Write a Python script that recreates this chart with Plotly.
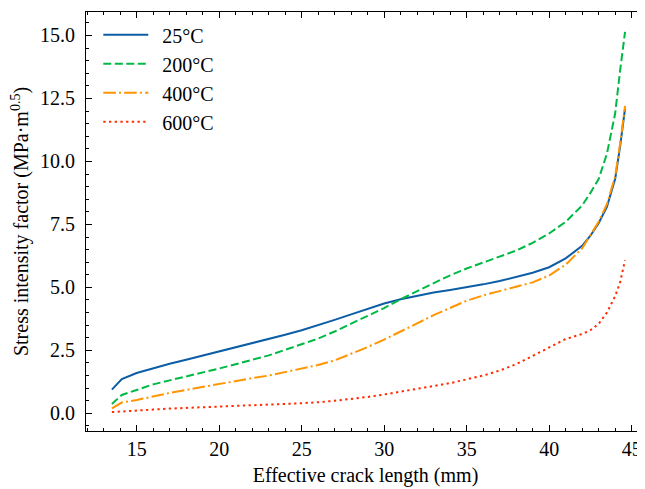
import plotly.graph_objects as go

x_grid = [13.5, 14.1, 15, 16, 17, 18, 19, 20, 21, 22, 23, 24, 25, 26, 27, 28, 29, 30,
          31, 32, 33, 34, 35, 36, 37, 38, 39, 40, 41, 42, 42.5, 43, 43.5, 44, 44.3, 44.6]

k_25 = [0.94, 1.36, 1.60, 1.80, 1.97, 2.13, 2.29, 2.45, 2.62, 2.78, 2.95, 3.12, 3.30, 3.49,
        3.71, 3.93, 4.15, 4.36, 4.53, 4.68, 4.80, 4.90, 5.00, 5.12, 5.25, 5.40, 5.58, 5.80,
        6.15, 6.65, 7.05, 7.55, 8.20, 9.30, 10.60, 12.10]
k_200 = [0.37, 0.73, 0.93, 1.15, 1.31, 1.46, 1.62, 1.78, 1.95, 2.12, 2.30, 2.52, 2.73, 2.97,
         3.25, 3.55, 3.87, 4.18, 4.53, 4.85, 5.17, 5.48, 5.75, 5.98, 6.20, 6.46, 6.77, 7.14,
         7.60, 8.25, 8.75, 9.30, 10.30, 11.90, 13.60, 15.14]
k_400 = [0.20, 0.43, 0.53, 0.68, 0.81, 0.93, 1.05, 1.17, 1.30, 1.40, 1.50, 1.63, 1.77, 1.92,
         2.10, 2.36, 2.63, 2.93, 3.24, 3.57, 3.90, 4.20, 4.47, 4.68, 4.85, 5.00, 5.20, 5.47,
         5.90, 6.55, 7.05, 7.60, 8.30, 9.40, 10.70, 12.20]
k_600 = [0.05, 0.08, 0.11, 0.15, 0.19, 0.22, 0.25, 0.27, 0.30, 0.32, 0.35, 0.37, 0.40, 0.44,
         0.50, 0.57, 0.65, 0.75, 0.86, 0.96, 1.08, 1.20, 1.35, 1.50, 1.70, 1.95, 2.28, 2.60,
         2.95, 3.15, 3.30, 3.55, 4.00, 4.65, 5.20, 6.08]

labels = ["25°C", "200°C", "400°C", "600°C"]
series = [k_25, k_200, k_400, k_600]
colors = ["#0C5DA5", "#00B945", "#FF9500", "#FF2C00"]
dashes = ["solid", "8px,3.5px", "12.5px,3.2px,2px,3.2px", "2.3px,3.4px"]

FONT = "Liberation Serif, Times New Roman, serif"
FS = 20

fig = go.Figure()
for lab, ys, c, d in zip(labels, series, colors, dashes):
    fig.add_trace(go.Scatter(x=x_grid, y=ys, mode="lines", name="\u00a0\u2009" + lab,
                             line=dict(color=c, width=2, dash=d)))

axis_common = dict(
    showline=True, linecolor="black", linewidth=1,
    ticks="inside", ticklen=6, tickwidth=1, tickcolor="black",
    showgrid=False, zeroline=False, automargin=False,
    tickfont=dict(family=FONT, size=FS, color="black"),
)

# page body has an 8px margin, so the figure is sized 8px smaller
fig.update_layout(
    width=637, height=481,
    margin=dict(l=78, r=0, t=4, b=58),
    paper_bgcolor="white", plot_bgcolor="white",
    font=dict(family=FONT, size=FS, color="black"),
    showlegend=True,
    legend=dict(x=0.022, y=0.992, xanchor="left", yanchor="top",
                bgcolor="rgba(0,0,0,0)", font=dict(family=FONT, size=FS),
                itemwidth=45, tracegroupgap=0),
    xaxis=dict(range=[11.93, 45.81], dtick=5, tick0=0, mirror="allticks",
               ticklabeloverflow="allow",
               minor=dict(dtick=1, ticks="inside", ticklen=3, tickcolor="black", showgrid=False),
               title=dict(text="Effective crack length (mm)", standoff=8,
                          font=dict(family=FONT, size=FS)),
               **axis_common),
    yaxis=dict(range=[-0.70, 15.93], dtick=2.5, tick0=0, tickformat=".1f", mirror=False,
               ticklabelstandoff=6,
               minor=dict(dtick=0.5, ticks="inside", ticklen=3, tickcolor="black", showgrid=False),
               title=dict(text="Stress intensity factor (MPa·m<sup>0.5</sup>)", standoff=10,
                          font=dict(family=FONT, size=FS)),
               **axis_common),
)

fig.write_html("out.html")
